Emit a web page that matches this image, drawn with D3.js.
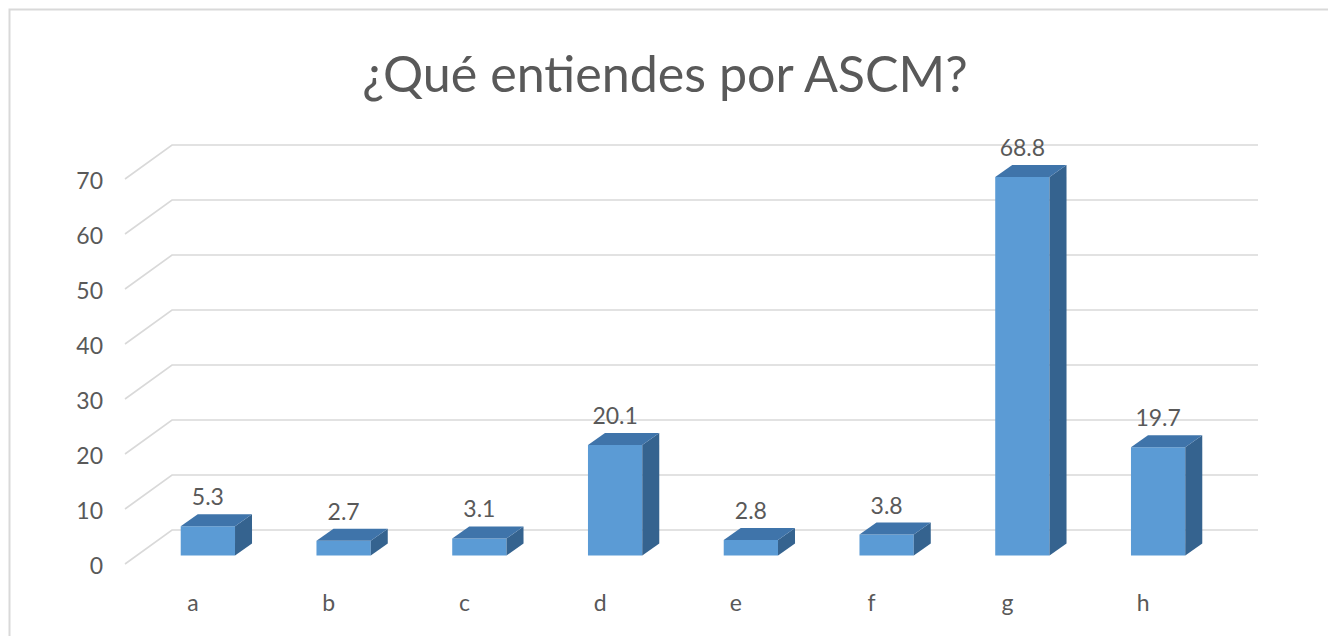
<!DOCTYPE html>
<html>
<head>
<meta charset="utf-8">
<script src="https://cdn.jsdelivr.net/npm/d3@7"></script>
<style>
  html, body { margin: 0; padding: 0; background: #ffffff; }
  svg { display: block; }
  text { font-family: Lato, "Open Sans", sans-serif; fill: #595959; }
</style>
</head>
<body>
<svg id="chart" width="1328" height="636"></svg>
<script>
const title = "¿Qué entiendes por ASCM?";
const categories = ["a", "b", "c", "d", "e", "f", "g", "h"];
const values = [5.3, 2.7, 3.1, 20.1, 2.8, 3.8, 68.8, 19.7];
const yTicks = [0, 10, 20, 30, 40, 50, 60, 70];

const svg = d3.select("#chart");
const W = 1328, H = 636;

// chart frame
svg.append("rect")
  .attr("x", 9.5).attr("y", 9.5)
  .attr("width", W + 20).attr("height", H + 20)
  .attr("fill", "#ffffff")
  .attr("stroke", "#d9d9d9").attr("stroke-width", 2);

// scales (front plane)
const x = d3.scaleBand().domain(categories).range([125, 1211]).padding(0);
const y = d3.scaleLinear().domain([0, 70]).range([564, 179]);

// 3D offsets
const wallDX = 47, wallDY = -34;      // front -> back wall
const barOffX = 15, barOffY = -8.5;   // front plane -> bar front face
const barDX = 17, barDY = -12;        // bar depth
const barW = x.bandwidth() * 0.4;
const labelSize = "23px";

// gridlines (floor + walls)
const grid = svg.append("g").attr("class", "grid");
yTicks.forEach(t => {
  const x0 = x.range()[0], x1 = x.range()[1];
  grid.append("path")
    .attr("d", `M${x0},${y(t)} L${x0 + wallDX},${y(t) + wallDY} L${x1 + wallDX},${y(t) + wallDY}`)
    .attr("fill", "none")
    .attr("stroke", "#d9d9d9")
    .attr("stroke-width", 1.6);
});

// y axis labels
const yAxis = d3.axisLeft(y).tickValues(yTicks).tickSize(0).tickPadding(0);
const gy = svg.append("g").attr("transform", "translate(103,2)").call(yAxis);
gy.select(".domain").remove();
gy.selectAll("text").style("font-size", labelSize).style("font-family", "Lato, sans-serif").attr("fill", "#595959");

// x axis labels
const xAxis = d3.axisBottom(x).tickSize(0).tickPadding(0);
const gx = svg.append("g").attr("transform", "translate(0,0)").call(xAxis);
gx.select(".domain").remove();
gx.selectAll("text").attr("y", 611).attr("dy", null)
  .style("font-size", labelSize).style("font-family", "Lato, sans-serif").attr("fill", "#595959");

// bars
const bars = svg.append("g").attr("class", "bars");
categories.forEach((c, i) => {
  const v = values[i];
  const cx = x(c) + x.bandwidth() / 2 + barOffX;
  const xl = cx - barW / 2, xr = cx + barW / 2;
  const yb = y(0) + barOffY, yt = y(v) + barOffY;
  const g = bars.append("g");
  // front face
  g.append("path")
    .attr("d", `M${xl},${yb} L${xr},${yb} L${xr},${yt} L${xl},${yt} Z`)
    .attr("fill", "#5b9bd5");
  // right side
  g.append("path")
    .attr("d", `M${xr},${yb} L${xr + barDX},${yb + barDY} L${xr + barDX},${yt + barDY} L${xr},${yt} Z`)
    .attr("fill", "#35638f");
  // top face
  g.append("path")
    .attr("d", `M${xl},${yt} L${xr},${yt} L${xr + barDX},${yt + barDY} L${xl + barDX},${yt + barDY} Z`)
    .attr("fill", "#3f74aa");
  // value label
  g.append("text")
    .attr("x", cx).attr("y", yt + barDY - 9)
    .attr("text-anchor", "middle")
    .style("font-size", labelSize)
    .text(String(v));
});

// title
const tt = svg.append("text")
  .attr("x", 665).attr("y", 92)
  .attr("text-anchor", "middle")
  .style("font-size", "48px")
  .text(title);
const tw = tt.node().getComputedTextLength();
tt.style("font-size", (48 * 605 / tw).toFixed(1) + "px");
</script>
</body>
</html>
